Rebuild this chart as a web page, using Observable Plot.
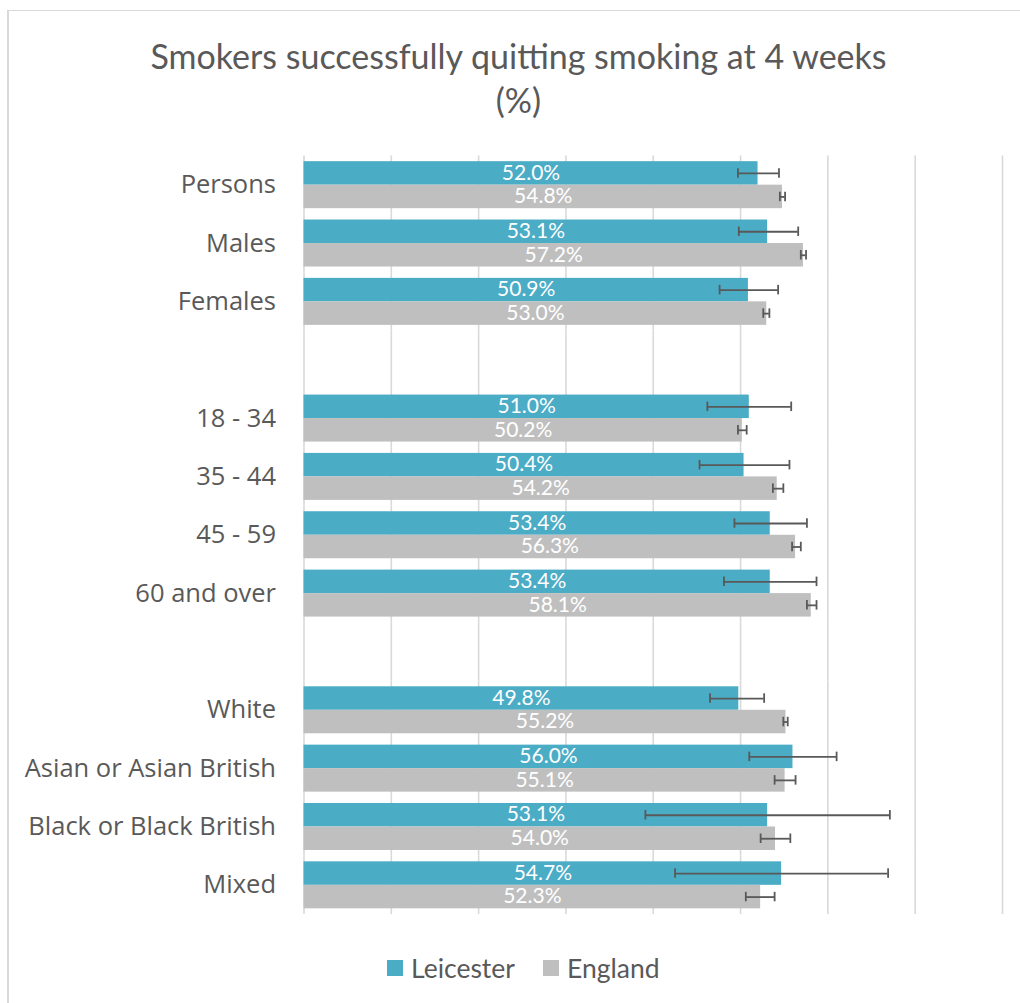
<!DOCTYPE html>
<html>
<head>
<meta charset="utf-8">
<script src="https://cdn.jsdelivr.net/npm/d3@7"></script>
<script src="https://cdn.jsdelivr.net/npm/@observablehq/plot@0.6"></script>
<style>
  html, body { margin: 0; padding: 0; background: #fff; }
  body { width: 1020px; height: 1003px; overflow: hidden; position: relative; font-family: Lato, "Open Sans", sans-serif; }
  #frame { position: absolute; left: 7px; top: 10px; width: 1100px; height: 1100px; border-left: 2px solid #d9d9d9; border-top: 1.5px solid #d9d9d9; box-sizing: border-box; }
  #title { position: absolute; left: 7px; width: 1023px; top: 34px; text-align: center; font-size: 34px; line-height: 44px; color: #595959; }
  #chart { position: absolute; left: 0; top: 0; }
  #legend { position: absolute; left: 387px; top: 952px; display: flex; align-items: center; font-size: 26.5px; color: #595959; }
  .item { display: flex; align-items: center; margin-right: 28px; }
  .sw { width: 16px; height: 16px; margin-right: 8px; }
</style>
</head>
<body>
<div id="frame"></div>
<div id="chart"></div>
<div id="title">Smokers successfully quitting smoking at 4 weeks<br>(%)</div>
<div id="legend"></div>
<script>
// ---- data ----
const categories = ["Persons", "Males", "Females", "18 - 34", "35 - 44", "45 - 59", "60 and over",
  "White", "Asian or Asian British", "Black or Black British", "Mixed"];
// row order including two blank separator rows
const rowOrder = ["Persons", "Males", "Females", " ", "18 - 34", "35 - 44", "45 - 59", "60 and over",
  "  ", "White", "Asian or Asian British", "Black or Black British", "Mixed"];
const seriesNames = ["Leicester", "England"];
const seriesColors = ["#4bacc6", "#bfbfbf"];

const leicester     = [52.0, 53.1, 50.9, 51.0, 50.4, 53.4, 53.4, 49.8, 56.0, 53.1, 54.7];
const leicesterLow  = [49.7, 49.8, 47.6, 46.2, 45.3, 49.3, 48.1, 46.5, 51.0, 39.1, 42.5];
const leicesterHigh = [54.4, 56.6, 54.3, 55.8, 55.6, 57.6, 58.7, 52.7, 61.0, 67.1, 66.9];

const england       = [54.8, 57.2, 53.0, 50.2, 54.2, 56.3, 58.1, 55.2, 55.1, 54.0, 52.3];
const englandLow    = [54.5, 56.9, 52.6, 49.7, 53.7, 55.9, 57.6, 54.9, 53.9, 52.3, 50.6];
const englandHigh   = [55.1, 57.5, 53.3, 50.7, 54.9, 56.9, 58.7, 55.4, 56.3, 55.7, 53.9];

const gridTicks = [0, 10, 20, 30, 40, 50, 60, 70, 80];

// ---- table ----
const rows = [];
categories.forEach((c, i) => {
  rows.push({cat: c, series: "Leicester", value: leicester[i], lo: leicesterLow[i], hi: leicesterHigh[i]});
  rows.push({cat: c, series: "England", value: england[i], lo: englandLow[i], hi: englandHigh[i]});
});
rowOrder.filter(r => r.trim() === "").forEach(r => rows.push({cat: r, series: "Leicester", value: NaN, lo: NaN, hi: NaN}));

const errColor = "#595959";

const chart = Plot.plot({
  width: 1020,
  height: 1003,
  marginTop: 155.5,
  marginBottom: 89,
  marginLeft: 303.5,
  marginRight: 18,
  style: {fontFamily: "'Open Sans', sans-serif", fontSize: "25.5px", color: "#595959", background: "transparent", overflow: "visible"},
  facet: {data: rows, y: "cat"},
  fy: {domain: rowOrder, padding: 0, round: false, label: null, tickSize: 0, tickPadding: 28, tickFormat: d => d.trim(), axis: "left"},
  y: {domain: seriesNames, paddingInner: 0, paddingOuter: 0.2415, round: false, axis: null},
  x: {domain: [0, 80], axis: null},
  color: {domain: seriesNames, range: seriesColors},
  marks: [
    Plot.ruleX(gridTicks, {stroke: "#d9d9d9", strokeWidth: 1.6}),
    Plot.barX(rows, {x: "value", y: "series", fill: "series"}),
    Plot.text(rows, {
      x: d => d.value / 2, y: "series",
      text: d => Number.isFinite(d.value) ? d.value.toFixed(1) + "%" : null,
      fill: "white", fontSize: 21, fontFamily: "Lato, sans-serif", dy: -0.5
    }),
    Plot.ruleY(rows, {x1: "lo", x2: "hi", y: "series", stroke: errColor, strokeWidth: 1.8}),
    Plot.tickX(rows, {x: "lo", y: "series", stroke: errColor, strokeWidth: 1.8, insetTop: 7, insetBottom: 7}),
    Plot.tickX(rows, {x: "hi", y: "series", stroke: errColor, strokeWidth: 1.8, insetTop: 7, insetBottom: 7})
  ]
});
document.getElementById("chart").appendChild(chart);

// ---- legend ----
const legend = document.getElementById("legend");
seriesNames.forEach((name, i) => {
  const item = document.createElement("div");
  item.className = "item";
  const sw = document.createElement("div");
  sw.className = "sw";
  sw.style.background = seriesColors[i];
  const label = document.createElement("span");
  label.textContent = name;
  item.appendChild(sw);
  item.appendChild(label);
  legend.appendChild(item);
});
</script>
</body>
</html>
